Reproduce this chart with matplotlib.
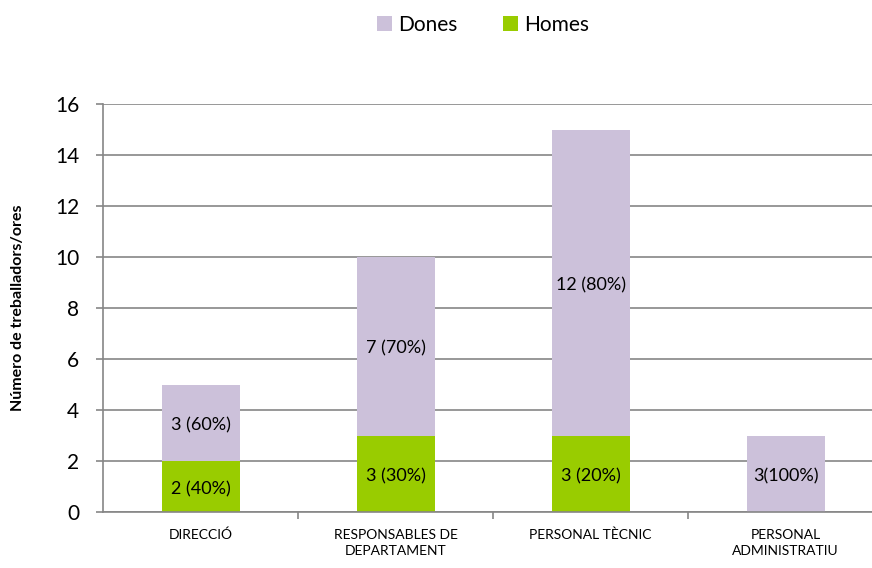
import numpy as np
import matplotlib.pyplot as plt

plt.rcParams['font.family'] = ['Lato', 'DejaVu Sans']

categories = ["DIRECCIÓ", "RESPONSABLES DE\nDEPARTAMENT", "PERSONAL TÈCNIC", "PERSONAL\nADMINISTRATIU"]
homes = [2, 3, 3, 0]
dones = [3, 7, 12, 3]
homes_labels = ["2 (40%)", "3 (30%)", "3 (20%)", ""]
dones_labels = ["3 (60%)", "7 (70%)", "12 (80%)", "3(100%)"]

green = "#99CC00"
lilac = "#CCC1DA"
grid_c = "#868686"

fig = plt.figure(figsize=(8.72, 5.68), dpi=100)
ax = fig.add_axes([103 / 872, (568 - 512) / 568, 780 / 872, 408 / 568])

x = np.arange(len(categories))
ax.bar(x, homes, width=0.4, color=green, label="Homes", zorder=2)
ax.bar(x, dones, width=0.4, bottom=homes, color=lilac, label="Dones", zorder=2)

for i in range(len(categories)):
    if homes[i] > 0:
        ax.text(x[i], homes[i] / 2 - 0.1, homes_labels[i], ha='center', va='center', fontsize=13)
    ax.text(x[i], homes[i] + dones[i] / 2 - 0.1, dones_labels[i], ha='center', va='center', fontsize=13)

ax.set_xlim(-0.5, 3.5)
ax.set_ylim(0, 16)
ax.set_yticks(range(0, 17, 2))
ax.yaxis.grid(True, color=grid_c, linewidth=1.2, zorder=0)
ax.set_axisbelow(True)

ax.set_xticks(x)
ax.set_xticklabels(categories, fontsize=10, linespacing=1.45)
ax.set_xticks([0.5, 1.5, 2.5], minor=True)
ax.tick_params(axis='x', which='major', length=0, pad=12)
ax.tick_params(axis='x', which='minor', length=5, color=grid_c, width=1.2)
ax.tick_params(axis='y', length=5, color=grid_c, width=1.2, labelsize=15, pad=12)

for s in ['top', 'right']:
    ax.spines[s].set_visible(False)
for s in ['left', 'bottom']:
    ax.spines[s].set_color(grid_c)
    ax.spines[s].set_linewidth(1.2)

ax.set_ylabel("Número de treballadors/ores", fontsize=11.5, fontweight='bold', labelpad=22)

handles, labels = ax.get_legend_handles_labels()
fig.legend(handles[::-1], labels[::-1], loc='center', bbox_to_anchor=(483 / 872, 1 - 25 / 568),
           ncol=2, frameon=False, fontsize=15, handlelength=0.7, handleheight=0.7,
           handletextpad=0.3, columnspacing=2.2)

fig.savefig("out.png", dpi=100)
